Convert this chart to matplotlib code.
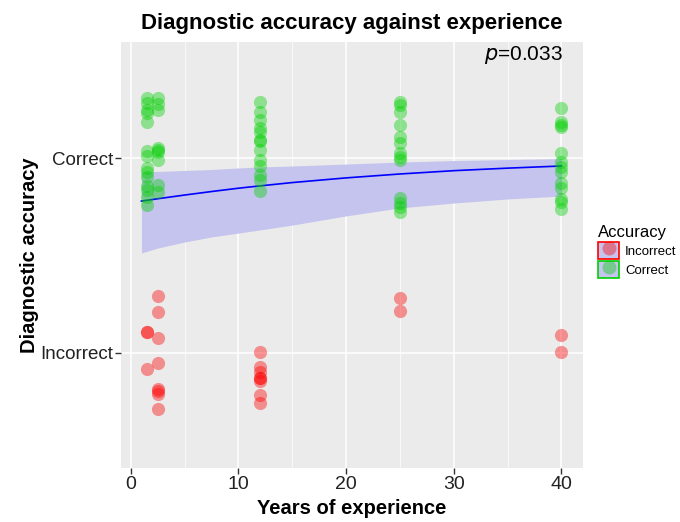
import numpy as np
import matplotlib
matplotlib.use("Agg")
import matplotlib.pyplot as plt
from matplotlib.patches import Patch
from matplotlib.lines import Line2D

plt.rcParams["font.family"] = ["Liberation Sans", "DejaVu Sans"]

# Jittered observations (1 = correct, 0 = incorrect, plus vertical jitter)
correct_x = [1.5] * 14 + [2.5] * 9 + [12] * 13 + [25] * 13 + [40] * 13
correct_y = [
    1.308, 1.282, 1.246, 1.231, 1.185, 1.036, 1.010, 0.949, 0.928, 0.903, 0.856, 0.836, 0.800, 0.759,
    1.308, 1.277, 1.246, 1.051, 1.041, 1.031, 0.990, 0.862, 0.826,
    1.287, 1.236, 1.195, 1.154, 1.133, 1.092, 1.087, 1.041, 0.990, 0.959, 0.913, 0.887, 0.831,
    1.287, 1.272, 1.236, 1.169, 1.108, 1.077, 1.026, 1.005, 0.990, 0.795, 0.769, 0.749, 0.723,
    1.256, 1.185, 1.169, 1.159, 1.026, 0.979, 0.954, 0.928, 0.872, 0.846, 0.790, 0.774, 0.738,
]
incorrect_x = [1.5] * 3 + [2.5] * 8 + [12] * 8 + [25] * 2 + [40] * 2
incorrect_y = [
    0.108, 0.108, -0.082,
    0.292, 0.210, 0.077, -0.051, -0.185, -0.195, -0.210, -0.287,
    0.005, -0.072, -0.097, -0.128, -0.128, -0.144, -0.215, -0.256,
    0.282, 0.215,
    0.092, 0.005,
]

# Logistic fit with confidence band
fit_x = [1, 2.5, 5, 7.5, 10, 12, 15, 20, 25, 30, 35, 40]
fit_y = [0.779, 0.791, 0.810, 0.828, 0.845, 0.857, 0.874, 0.898, 0.918, 0.935, 0.948, 0.959]
fit_lo = [0.513, 0.538, 0.569, 0.595, 0.615, 0.631, 0.656, 0.703, 0.744, 0.769, 0.790, 0.805]
fit_hi = [0.928, 0.931, 0.936, 0.941, 0.949, 0.954, 0.959, 0.969, 0.979, 0.987, 0.992, 0.997]

p_label = "0.033"

RED = "#FF0000"
GREEN = "#00D000"
BAND = "#C4C4EE"

fig = plt.figure(figsize=(6.8, 5.22), dpi=100)
ax = fig.add_axes([121 / 680, 1 - 468 / 522, 462 / 680, 426 / 522])
ax.set_facecolor("#EBEBEB")

ax.fill_between(fit_x, fit_lo, fit_hi, color=BAND, lw=0, zorder=1)
ax.plot(fit_x, fit_y, color="blue", lw=1.2, zorder=2)
ax.scatter(incorrect_x, incorrect_y, s=90, color=RED, alpha=0.4, lw=0, zorder=3)
ax.scatter(correct_x, correct_y, s=90, color=GREEN, alpha=0.4, lw=0, zorder=3)

ax.text(40.1, 1.53, "$\\it{p}$=" + p_label, ha="right", va="center", fontsize=15, color="black")

ax.set_xlim(-0.9, 42.0)
ax.set_ylim(-0.59, 1.595)
ax.set_xticks([0, 10, 20, 30, 40])
ax.set_xticks([5, 15, 25, 35], minor=True)
ax.set_yticks([0, 1])
ax.set_yticklabels(["Incorrect", "Correct"])
ax.grid(which="major", color="white", lw=1.1)
ax.grid(which="minor", axis="x", color="white", lw=0.5)
ax.set_axisbelow(True)
for s in ax.spines.values():
    s.set_visible(False)
ax.tick_params(which="major", length=4, width=1, color="#333333", labelsize=14, labelcolor="#222222", pad=2)
ax.tick_params(axis="y", labelsize=13.5, pad=1.8)
ax.tick_params(which="minor", length=0)

ax.set_title("Diagnostic accuracy against experience", fontsize=16, fontweight="bold", pad=9)
ax.set_xlabel("Years of experience", fontsize=14.5, fontweight="bold", labelpad=4)
ax.set_ylabel("Diagnostic accuracy", fontsize=14.5, fontweight="bold", labelpad=1)

handles = [
    (Patch(facecolor=BAND, edgecolor=RED, lw=1.2),
     Line2D([], [], marker="o", ls="", color=RED, alpha=0.4, markersize=10, markeredgewidth=0)),
    (Patch(facecolor=BAND, edgecolor=GREEN, lw=1.2),
     Line2D([], [], marker="o", ls="", color=GREEN, alpha=0.4, markersize=10, markeredgewidth=0)),
]
leg = fig.legend(handles, ["Incorrect", "Correct"], title="Accuracy",
                 loc="upper left", bbox_to_anchor=(594 / 680, 1 - 221 / 522),
                 frameon=False, fontsize=9.5, title_fontsize=12,
                 handlelength=1.6, handleheight=1.6, handletextpad=0.45,
                 labelspacing=0.15, borderpad=0.3, borderaxespad=0)
leg._legend_box.align = "left"

fig.savefig("out.png", dpi=100)
